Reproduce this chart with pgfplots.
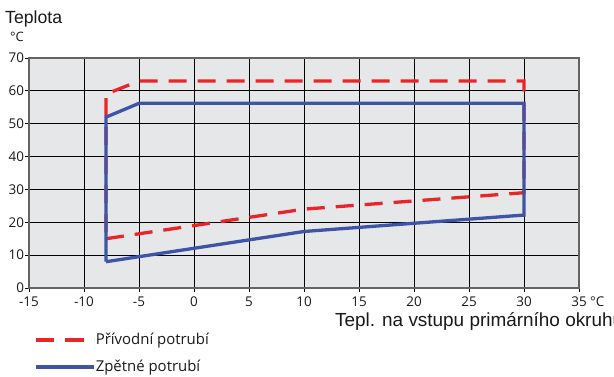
\documentclass[border=0pt]{standalone}
\usepackage{pgfplots}
\pgfplotsset{compat=1.18}
\usepackage{fontspec}
\setmainfont{Liberation Sans}
\newfontfamily\tickfont{Open Sans}
\definecolor{cred}{RGB}{232,38,42}
\definecolor{cblue}{RGB}{63,84,166}
\definecolor{cbg}{RGB}{230,231,233}
\definecolor{caxis}{RGB}{100,100,100}
\begin{document}
\begin{tikzpicture}[x=1bp,y=1bp]
\useasboundingbox (0,0) rectangle (614,376);
\begin{axis}[
  at={(29bp,88bp)}, anchor=south west,
  scale only axis, width=550bp, height=230bp,
  xmin=-15, xmax=35, ymin=0, ymax=70,
  xtick={-15,-10,...,35}, ytick={0,10,...,70},
  xticklabels={-15,-10,-5,0,5,10,15,20,25,30,{35\rlap{ °C}}},
  grid=major, major grid style={black, line width=1bp},
  axis background/.style={fill=cbg},
  axis line style={draw=caxis, line width=1.6bp},
  tick align=outside, major tick length=4bp,
  tick style={black, line width=0.8bp},
  xtick pos=bottom, ytick pos=left,
  ticklabel style={font=\tickfont\fontsize{13.5}{15}\selectfont, text=black!90},
  xticklabel style={yshift=-1bp},
  yticklabel style={xshift=2.5bp},
  /pgf/number format/assume math mode=true,
  legend style={at={(axis description cs:0.009,-0.197)}, anchor=north west,
    draw=none, fill=none, inner sep=0pt, row sep=14bp,
    font=\tickfont\fontsize{15}{17}\selectfont,
    nodes={inner sep=0pt, text=black!90}},
  legend cell align=left,
]
\addplot[cred, line width=3.3bp, dash pattern=on 18bp off 11bp,
  legend image code/.code={\draw[cred, solid, line width=4bp] (0bp,0bp) -- (9bp,0bp) (29bp,0bp) -- (48bp,0bp); \path (0bp,0bp) -- (58bp,0bp);}]
  coordinates {(-8,15) (10,24) (30,29) (30,63) (-5,63) (-8,59) (-8,15)};
\addlegendentry{Přívodní potrubí}
\addplot[cblue, line width=3.3bp,
  legend image code/.code={\draw[cblue, solid, line width=4bp] (0bp,0bp) -- (48bp,0bp); \path (0bp,0bp) -- (58bp,0bp);}]
  coordinates {(-8,8) (10,17.2) (30,22.2) (30,56.2) (-5,56.2) (-8,52) (-8,8)};
\addlegendentry{Zpětné potrubí}
\end{axis}
\node[anchor=base west, inner sep=0pt, font=\fontsize{17.7}{20}\selectfont, text=black!90] at (5bp,352bp) {Teplota};
\node[anchor=base west, inner sep=0pt, font=\tickfont\fontsize{13}{15}\selectfont, text=black!90] at (10bp,334bp) {°C};
\node[anchor=base west, inner sep=0pt, font=\fontsize{19}{22}\selectfont, text=black!90] at (335bp,49.5bp) {Tepl. na vstupu primárního okruhu};
\end{tikzpicture}
\end{document}
